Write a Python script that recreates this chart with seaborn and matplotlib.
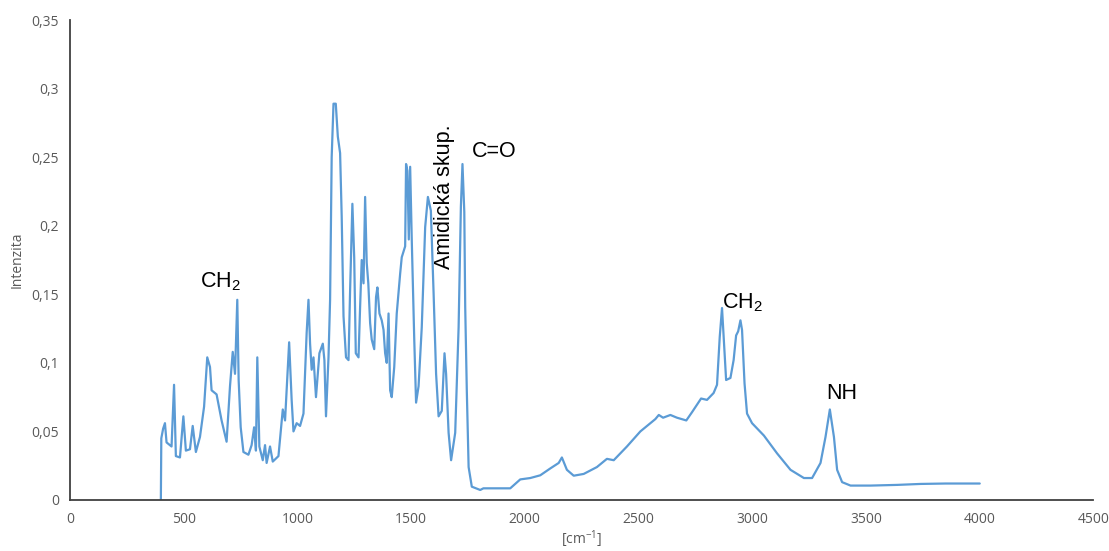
import matplotlib
matplotlib.use('Agg')
import matplotlib.pyplot as plt
import numpy as np
import pandas as pd
import seaborn as sns

sns.set_style('white')
plt.rcParams['font.family'] = ['Open Sans', 'DejaVu Sans']
plt.rcParams['mathtext.default'] = 'regular'

# spectrum
wavenumber = [
    400, 402, 410, 418, 425, 447, 458, 466, 484, 499, 510, 528, 540, 554, 572,
    590, 604, 616, 623, 645, 667, 689, 704, 716, 726, 736, 742, 751, 763, 785,
    799, 810, 818, 824, 833, 848, 858, 865, 880, 892, 917, 936, 946, 964, 975,
    983, 997, 1012, 1027, 1041, 1049, 1056, 1063, 1071, 1082, 1097, 1112, 1119,
    1126, 1137, 1144, 1151, 1159, 1169, 1178, 1188, 1195, 1203, 1214, 1225,
    1232, 1242, 1250, 1257, 1269, 1276, 1283, 1291, 1298, 1305, 1312, 1320,
    1327, 1338, 1346, 1352, 1361, 1371, 1379, 1386, 1393, 1401, 1408, 1415,
    1426, 1437, 1452, 1459, 1474, 1478, 1484, 1490, 1496, 1503, 1514, 1522,
    1533, 1547, 1562, 1574, 1587, 1599, 1610, 1621, 1635, 1647, 1654, 1665,
    1676, 1694, 1709, 1719, 1726, 1734, 1738, 1745, 1753, 1767, 1804, 1818,
    1936, 1980, 2024, 2068, 2112, 2149, 2163, 2185, 2215, 2259, 2317, 2361,
    2391, 2449, 2508, 2552, 2574, 2589, 2608, 2640, 2669, 2710, 2735, 2775,
    2801, 2830, 2845, 2857, 2867, 2875, 2885, 2904, 2918, 2929, 2938, 2948,
    2955, 2966, 2977, 2999, 3051, 3109, 3168, 3227, 3263, 3300, 3322, 3341,
    3359, 3373, 3395, 3432, 3520, 3637, 3740, 3850, 4000,
]
intensity = [
    0.0, 0.045, 0.052, 0.056, 0.042, 0.039, 0.084, 0.032, 0.031, 0.061, 0.036,
    0.037, 0.054, 0.035, 0.046, 0.068, 0.104, 0.097, 0.080, 0.077, 0.058,
    0.0425, 0.083, 0.108, 0.092, 0.146, 0.0875, 0.053, 0.035, 0.033, 0.040,
    0.053, 0.036, 0.104, 0.039, 0.029, 0.040, 0.027, 0.039, 0.028, 0.032,
    0.066, 0.058, 0.115, 0.073, 0.050, 0.056, 0.054, 0.063, 0.122, 0.146,
    0.114, 0.095, 0.104, 0.075, 0.107, 0.114, 0.102, 0.061, 0.104, 0.146,
    0.250, 0.289, 0.289, 0.265, 0.253, 0.207, 0.134, 0.104, 0.102, 0.153,
    0.216, 0.177, 0.107, 0.104, 0.141, 0.175, 0.158, 0.221, 0.173, 0.158,
    0.129, 0.117, 0.110, 0.148, 0.155, 0.136, 0.131, 0.124, 0.107, 0.100,
    0.136, 0.080, 0.075, 0.097, 0.136, 0.165, 0.177, 0.185, 0.245, 0.240,
    0.190, 0.243, 0.190, 0.117, 0.071, 0.083, 0.126, 0.199, 0.221, 0.211,
    0.151, 0.092, 0.061, 0.065, 0.107, 0.092, 0.049, 0.029, 0.049, 0.126,
    0.214, 0.245, 0.210, 0.141, 0.080, 0.024, 0.0097, 0.0073, 0.0085, 0.0085,
    0.015, 0.016, 0.018, 0.023, 0.027, 0.031, 0.022, 0.0177, 0.019, 0.024,
    0.030, 0.029, 0.039, 0.050, 0.056, 0.059, 0.062, 0.060, 0.062, 0.060,
    0.058, 0.064, 0.074, 0.073, 0.078, 0.084, 0.119, 0.140, 0.117, 0.0875,
    0.089, 0.102, 0.120, 0.123, 0.131, 0.124, 0.085, 0.063, 0.056, 0.047,
    0.034, 0.022, 0.016, 0.016, 0.027, 0.046, 0.066, 0.046, 0.022, 0.013,
    0.0105, 0.0105, 0.011, 0.0117, 0.012, 0.012,
]

x_ticks = [0, 500, 1000, 1500, 2000, 2500, 3000, 3500, 4000, 4500]
y_ticks = [0, 0.05, 0.1, 0.15, 0.2, 0.25, 0.3, 0.35]
y_tick_labels = ['0', '0,05', '0,1', '0,15', '0,2', '0,25', '0,3', '0,35']

peak_labels = ['CH$_2$', 'Amidická skup.', 'C=O', 'CH$_2$', 'NH']
peak_x = [664, 1646, 1866, 2957, 3393]
peak_y = [0.159, 0.221, 0.254, 0.144, 0.0775]
peak_rot = [0, 90, 0, 0, 0]

df = pd.DataFrame({'wavenumber': wavenumber, 'intensity': intensity})

fig = plt.figure(figsize=(11.09, 5.51), dpi=100)
ax = fig.add_axes([0.063, 0.0926, 0.923, 0.871])
sns.lineplot(data=df, x='wavenumber', y='intensity', estimator=None,
             color='#5B9BD5', linewidth=1.6, ax=ax)

ax.set_xlim(0, 4500)
ax.set_ylim(0, 0.35)
ax.set_xticks(x_ticks)
ax.set_xticklabels([str(t) for t in x_ticks])
ax.set_yticks(y_ticks)
ax.set_yticklabels(y_tick_labels)
ax.tick_params(axis='x', length=0, labelsize=10, labelcolor='#595959', pad=9)
ax.tick_params(axis='y', length=0, labelsize=10, labelcolor='#595959', pad=8)

for side in ['top', 'right']:
    ax.spines[side].set_visible(False)
for side in ['left', 'bottom']:
    ax.spines[side].set_color('#404040')
    ax.spines[side].set_linewidth(1.3)

ax.set_xlabel('[cm$^{-1}$]', fontsize=10, color='#595959', labelpad=1)
ax.set_ylabel('Intenzita', fontsize=10, color='#595959', labelpad=5)

for lab, px, py, rot in zip(peak_labels, peak_x, peak_y, peak_rot):
    ax.text(px, py, lab, fontsize=15.5, rotation=rot, ha='center', va='center',
            family=['Liberation Sans', 'DejaVu Sans'], color='black')

fig.savefig('out.png', dpi=100)
